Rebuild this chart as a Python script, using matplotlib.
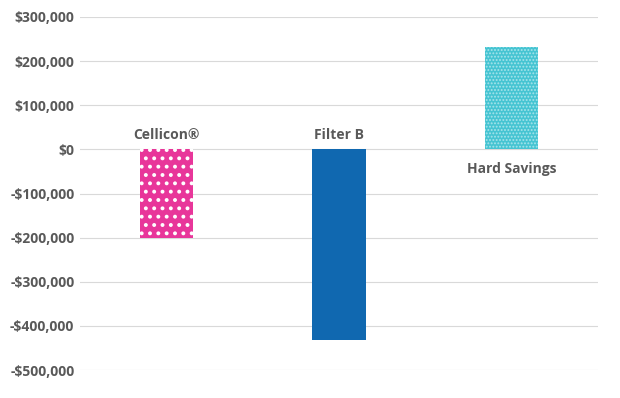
import matplotlib
matplotlib.use("Agg")
import matplotlib.pyplot as plt
from matplotlib.ticker import FuncFormatter

categories = ["Cellicon®", "Filter B", "Hard Savings"]
values = [-200000, -433000, 231000]
colors = ["#E8369A", "#1068B0", "#45C4D2"]
hatches = ["..", None, "....."]
hatch_colors = ["#FFFFFF", None, "#A8E4EB"]
hatch_widths = [1.6, None, 0.9]
yticks = [300000, 200000, 100000, 0, -100000, -200000, -300000, -400000, -500000]

text_color = "#595959"
font = "Open Sans"

fig = plt.figure(figsize=(6.2, 3.98), dpi=100)
ax = fig.add_axes([80/620, 1-370/398, (598-80)/620, (370-17)/398])

for i, (v, c, h, hc, hw) in enumerate(zip(values, colors, hatches, hatch_colors, hatch_widths)):
    if h:
        plt.rcParams['hatch.linewidth'] = hw
        b = ax.bar(i, v, width=0.31, color=c, edgecolor=hc, hatch=h, linewidth=0, zorder=3)
        for p in b:
            try:
                p.set_hatch_linewidth(hw)
            except Exception:
                pass
    else:
        ax.bar(i, v, width=0.31, color=c, linewidth=0, zorder=3)
    if v < 0:
        ax.annotate(categories[i], (i, 0), xytext=(0, 5), textcoords="offset points",
                    ha="center", va="bottom", fontsize=10, fontweight="bold",
                    color=text_color, family=font)
    else:
        ax.annotate(categories[i], (i, 0), xytext=(0, -9), textcoords="offset points",
                    ha="center", va="top", fontsize=10, fontweight="bold",
                    color=text_color, family=font)

ax.set_xlim(-0.5, len(categories) - 0.5)
ax.set_ylim(-500000, 300000)
ax.set_yticks(yticks)

def fmt(v, pos):
    v = int(round(v))
    if v < 0:
        return "-${:,}".format(-v)
    return "${:,}".format(v)

ax.yaxis.set_major_formatter(FuncFormatter(fmt))
ax.set_xticks([])
ax.grid(axis="y", color="#D9D9D9", linewidth=0.8, zorder=0)
ax.tick_params(axis="y", length=0, pad=4, labelsize=10, labelcolor=text_color)
for lab in ax.get_yticklabels():
    lab.set_fontweight("bold")
    lab.set_family(font)
for s in ax.spines.values():
    s.set_visible(False)

fig.savefig("out.png", dpi=100)
